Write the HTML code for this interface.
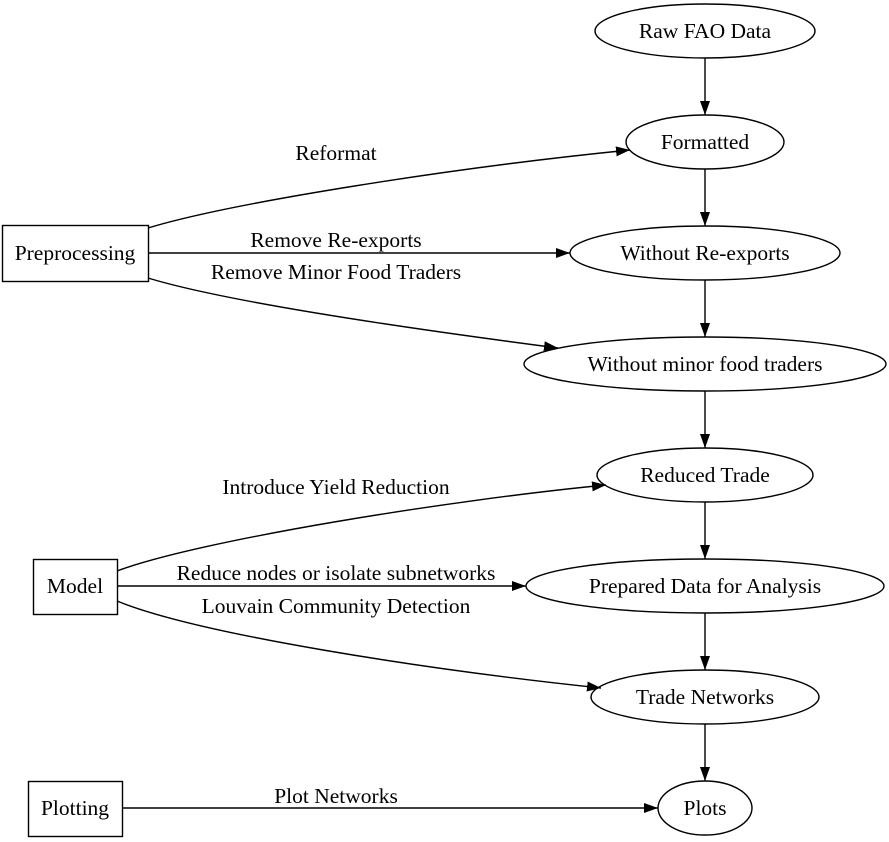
<!DOCTYPE html>
<html><head><meta charset="utf-8"><style>
html,body{margin:0;padding:0;background:#fff;}
svg{display:block;}
text{font-family:"Liberation Serif",serif;font-size:21.5px;fill:#000;text-anchor:middle;}
</style></head><body>
<svg width="889" height="842" viewBox="0 0 889 842" xmlns="http://www.w3.org/2000/svg">
<defs>
<marker id="a" markerWidth="14" markerHeight="10" refX="14" refY="5" orient="auto" markerUnits="userSpaceOnUse">
<path d="M0,0 L14,5 L0,10 Z" fill="#000"/>
</marker>
</defs>
<g fill="none" stroke="#000" stroke-width="1.4">
<ellipse cx="705" cy="31" rx="110" ry="27"/>
<ellipse cx="705" cy="142" rx="79" ry="27"/>
<ellipse cx="705" cy="253" rx="135" ry="27"/>
<ellipse cx="705" cy="364" rx="181" ry="27"/>
<ellipse cx="705" cy="475" rx="108" ry="27"/>
<ellipse cx="705" cy="586" rx="179" ry="27"/>
<ellipse cx="705" cy="697" rx="114" ry="27"/>
<ellipse cx="705" cy="808" rx="47" ry="27"/>
<rect x="2.5" y="225.5" width="146" height="56"/>
<rect x="33.5" y="559.5" width="84" height="55"/>
<rect x="28.5" y="781.5" width="94" height="55"/>
</g>
<g fill="none" stroke="#000" stroke-width="1.4" marker-end="url(#a)">
<line x1="705" y1="58" x2="705" y2="115"/>
<line x1="705" y1="169" x2="705" y2="226"/>
<line x1="705" y1="280" x2="705" y2="337"/>
<line x1="705" y1="391" x2="705" y2="448"/>
<line x1="705" y1="502" x2="705" y2="559"/>
<line x1="705" y1="613" x2="705" y2="670"/>
<line x1="705" y1="724" x2="705" y2="781"/>
<path d="M148,228 C230,203 450,168 630,150"/>
<line x1="148" y1="253" x2="570" y2="253"/>
<path d="M148,278 C230,303 420,330 558,348"/>
<path d="M117,571 C200,540 450,500 606,485"/>
<line x1="117" y1="586" x2="526" y2="586"/>
<path d="M117,601 C200,635 430,670 601,688"/>
<line x1="122" y1="808" x2="658" y2="808"/>
</g>
<text x="705" y="38">Raw FAO Data</text>
<text x="705" y="149">Formatted</text>
<text x="705" y="260">Without Re-exports</text>
<text x="705" y="371">Without minor food traders</text>
<text x="705" y="482">Reduced Trade</text>
<text x="705" y="593">Prepared Data for Analysis</text>
<text x="705" y="704">Trade Networks</text>
<text x="705" y="815">Plots</text>
<text x="75" y="260">Preprocessing</text>
<text x="75" y="593">Model</text>
<text x="75" y="815">Plotting</text>
<text x="336" y="160">Reformat</text>
<text x="336" y="247">Remove Re-exports</text>
<text x="336" y="279">Remove Minor Food Traders</text>
<text x="336" y="494">Introduce Yield Reduction</text>
<text x="336" y="580">Reduce nodes or isolate subnetworks</text>
<text x="336" y="613">Louvain Community Detection</text>
<text x="336" y="803">Plot Networks</text>
</svg>
</body></html>
